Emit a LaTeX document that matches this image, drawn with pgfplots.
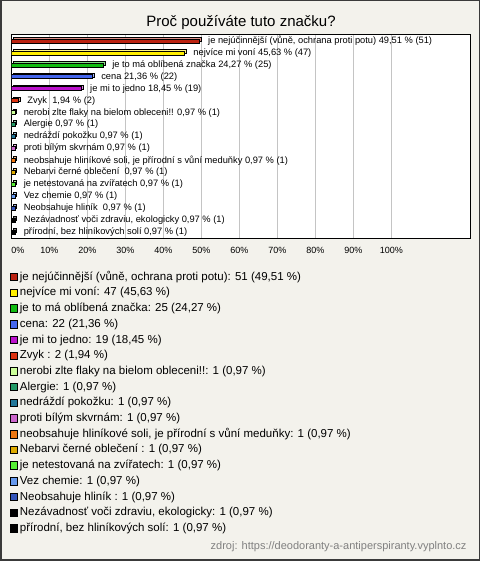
\documentclass[border=0pt]{standalone}
\usepackage{fontspec}
\setmainfont{Liberation Sans}
\usepackage{pgfplots}
\pgfplotsset{compat=1.18}
\definecolor{bg}{HTML}{F3F2EC}
\definecolor{frame}{HTML}{3A3A3A}
\definecolor{gridc}{HTML}{C4C4C4}
\definecolor{c1}{HTML}{BB2211}
\definecolor{c2}{HTML}{FFEE00}
\definecolor{c3}{HTML}{11BB11}
\definecolor{c4}{HTML}{4466EE}
\definecolor{c5}{HTML}{BB11CC}
\definecolor{c6}{HTML}{DD3311}
\definecolor{c7}{HTML}{CCFF99}
\definecolor{c8}{HTML}{229966}
\definecolor{c9}{HTML}{227799}
\definecolor{c10}{HTML}{CC66CC}
\definecolor{c11}{HTML}{EE7711}
\definecolor{c12}{HTML}{DDAA00}
\definecolor{c13}{HTML}{55EE33}
\definecolor{c14}{HTML}{6699EE}
\definecolor{c15}{HTML}{3355BB}
\definecolor{c16}{HTML}{000000}
\definecolor{c17}{HTML}{000000}
\newcommand{\bbar}[5]{%
  \addplot[xbar, bar width=4pt, bar shift=0pt, fill=#1!50!white, draw=black, line width=0.6pt, xshift=1.8pt, yshift=1.8pt, forget plot] coordinates {(#2,#3)};
  \addplot[xbar, bar width=4pt, bar shift=0pt, fill=#1, draw=black, line width=0.6pt, nodes near coords, point meta=explicit symbolic, nodes near coords style={font=\fontsize{9.3}{11}\selectfont, anchor=west, inner sep=0pt, xshift=8.5pt, text=black}] coordinates {(#2,#3) [#4]};
  \addlegendentry{#5}
}
\begin{document}
\begin{tikzpicture}
\fill[frame] (0,0) rectangle (480pt,561pt);
\fill[bg] (1.5pt,1.5pt) rectangle (478.5pt,559.5pt);
\begin{axis}[
  at={(11.3pt,323pt)}, anchor=south west,
  scale only axis, width=459.4pt, height=203pt,
  xmin=0, xmax=120.9, ymin=0.5, ymax=17.5, y dir=reverse,
  axis background/.style={fill=white},
  axis line style={black, line width=1pt},
  ytick=\empty,
  xtick={0,10,...,100},
  xticklabels={\makebox[0pt][l]{0\%},10\%,20\%,30\%,40\%,50\%,60\%,70\%,80\%,90\%,100\%},
  xticklabel style={font=\fontsize{9}{11}\selectfont, text=black, yshift=-6pt},
  major tick length=0pt,
  xmajorgrids, grid style={gridc, line width=0.8pt},
  title={Proč používáte tuto značku?},
  title style={font=\fontsize{15}{18}\selectfont, yshift=-4pt},
  legend image code/.code={\draw[#1, draw=black, line width=0.5pt] (0pt,-3.75pt) rectangle (7.5pt,3.75pt);},
  legend cell align=left,
  legend style={at={(-0.003,-0.1586)}, anchor=north west, draw=none, fill=none, inner sep=0pt, outer sep=0pt, row sep=2.1pt, column sep=2pt,
    font=\fontsize{11.5}{13}\selectfont,
    nodes={inner sep=0pt, text height=10pt, text depth=3.6pt}},
]
\bbar{c1}{49.51}{1}{je nejúčinnější (vůně, ochrana proti potu) 49,51 \% (51)}{je nejúčinnější (vůně, ochrana proti potu): 51 (49,51 \%)}
\bbar{c2}{45.63}{2}{nejvíce mi voní 45,63 \% (47)}{nejvíce mi voní: 47 (45,63 \%)}
\bbar{c3}{24.27}{3}{je to má oblíbená značka 24,27 \% (25)}{je to má oblíbená značka: 25 (24,27 \%)}
\bbar{c4}{21.36}{4}{cena 21,36 \% (22)}{cena: 22 (21,36 \%)}
\bbar{c5}{18.45}{5}{je mi to jedno 18,45 \% (19)}{je mi to jedno: 19 (18,45 \%)}
\bbar{c6}{1.94}{6}{Zvyk\ \ 1,94 \% (2)}{Zvyk : 2 (1,94 \%)}
\bbar{c7}{0.97}{7}{nerobi zlte flaky na bielom obleceni!! 0,97 \% (1)}{nerobi zlte flaky na bielom obleceni!!: 1 (0,97 \%)}
\bbar{c8}{0.97}{8}{Alergie 0,97 \% (1)}{Alergie: 1 (0,97 \%)}
\bbar{c9}{0.97}{9}{nedráždí pokožku 0,97 \% (1)}{nedráždí pokožku: 1 (0,97 \%)}
\bbar{c10}{0.97}{10}{proti bílým skvrnám 0,97 \% (1)}{proti bílým skvrnám: 1 (0,97 \%)}
\bbar{c11}{0.97}{11}{neobsahuje hliníkové soli, je přírodní s vůní meduňky 0,97 \% (1)}{neobsahuje hliníkové soli, je přírodní s vůní meduňky: 1 (0,97 \%)}
\bbar{c12}{0.97}{12}{Nebarvi černé oblečení\ \ 0,97 \% (1)}{Nebarvi černé oblečení : 1 (0,97 \%)}
\bbar{c13}{0.97}{13}{je netestovaná na zvířatech 0,97 \% (1)}{je netestovaná na zvířatech: 1 (0,97 \%)}
\bbar{c14}{0.97}{14}{Vez chemie 0,97 \% (1)}{Vez chemie: 1 (0,97 \%)}
\bbar{c15}{0.97}{15}{Neobsahuje hliník\ \ 0,97 \% (1)}{Neobsahuje hliník : 1 (0,97 \%)}
\bbar{c16}{0.97}{16}{Nezávadnosť voči zdraviu, ekologicky 0,97 \% (1)}{Nezávadnosť voči zdraviu, ekologicky: 1 (0,97 \%)}
\bbar{c17}{0.97}{17}{přírodní, bez hliníkových solí 0,97 \% (1)}{přírodní, bez hliníkových solí: 1 (0,97 \%)}
\end{axis}
\node[anchor=east, text=gray, font=\fontsize{11}{13}\selectfont] at (470pt,14pt) {zdroj: https://deodoranty-a-antiperspiranty.vyplnto.cz};
\end{tikzpicture}
\end{document}
